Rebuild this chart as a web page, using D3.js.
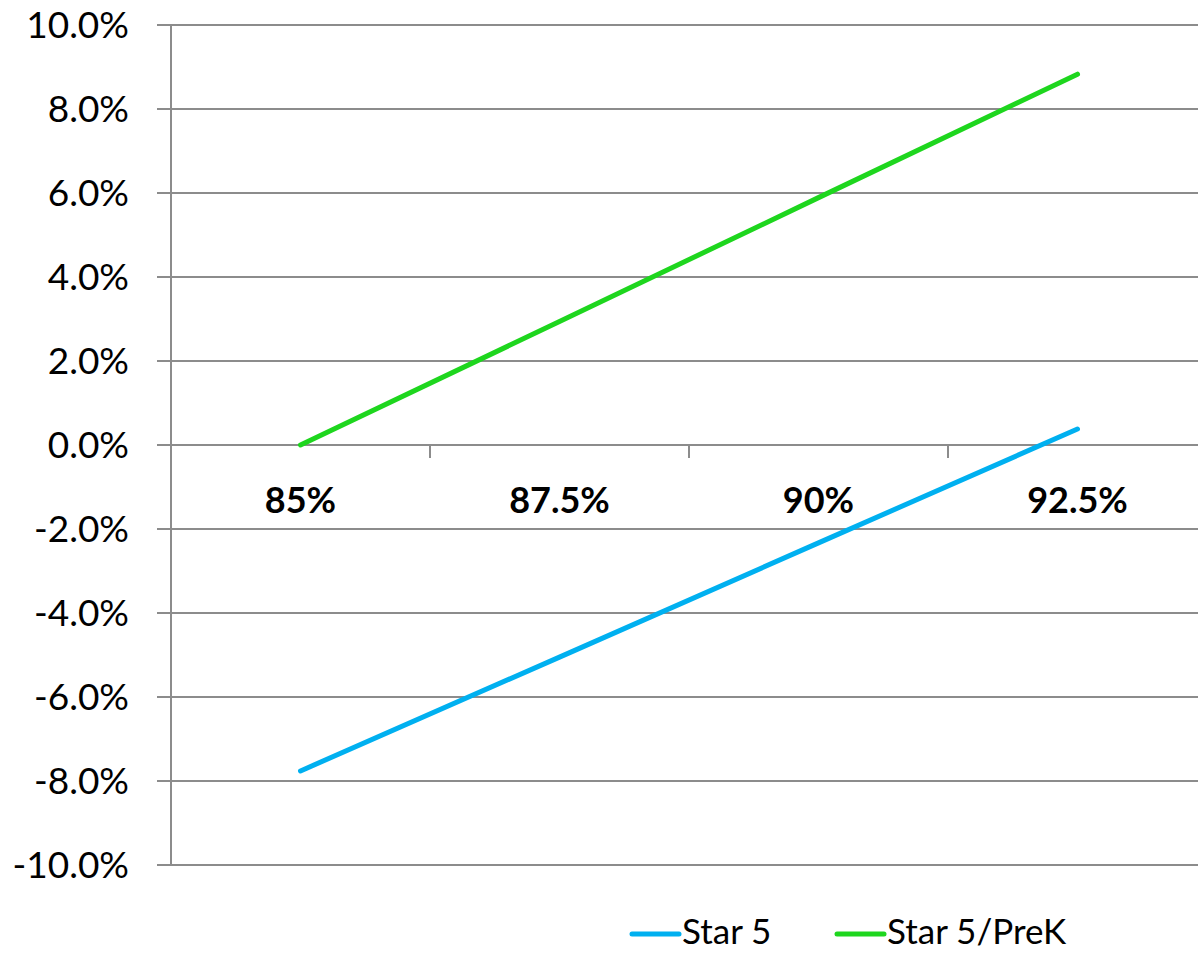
<!DOCTYPE html>
<html><head><meta charset="utf-8">
<script src="https://cdn.jsdelivr.net/npm/d3@7"></script>
<style>body{margin:0;background:#fff}svg{display:block}</style>
</head><body>
<svg id="c" width="1198" height="953"></svg>
<script>
const categories = ["85%", "87.5%", "90%", "92.5%"];
const star5 = [-7.76, -5.05, -2.33, 0.38];
const star5PreK = [0.0, 2.94, 5.89, 8.83];
const yTicks = [-10, -8, -6, -4, -2, 0, 2, 4, 6, 8, 10];
const seriesNames = ["Star 5", "Star 5/PreK"];
const colors = ["#00b0f0", "#1ed61e"];

const svg = d3.select("#c");
const pLeft = 171, pRight = 1207, pTop = 25, pBottom = 865;
const font = "Lato, 'Open Sans', sans-serif";
const x = d3.scaleBand().domain(categories).range([pLeft, pRight]);
const y = d3.scaleLinear().domain([-10, 10]).range([pBottom, pTop]);

// gridlines
svg.append("g").selectAll("line").data(yTicks).join("line")
  .attr("x1", pLeft - 14).attr("x2", pRight)
  .attr("y1", d => y(d)).attr("y2", d => y(d))
  .attr("stroke", "#8c8c8c").attr("stroke-width", 2);
// y axis line
svg.append("line").attr("x1", pLeft).attr("x2", pLeft).attr("y1", pTop).attr("y2", pBottom)
  .attr("stroke", "#8c8c8c").attr("stroke-width", 2);
// y labels
svg.append("g").selectAll("text").data(yTicks).join("text")
  .attr("x", 129).attr("y", d => y(d)).attr("dy", "0.36em")
  .attr("text-anchor", "end").attr("font-family", font).attr("font-size", 37)
  .text(d => d3.format(".1f")(d).replace("\u2212", "-") + "%");
// x ticks at band boundaries on zero line
svg.append("g").selectAll("line").data(categories.slice(1)).join("line")
  .attr("x1", d => x(d)).attr("x2", d => x(d))
  .attr("y1", y(0)).attr("y2", y(0) + 13)
  .attr("stroke", "#8c8c8c").attr("stroke-width", 2);
// category labels
svg.append("g").selectAll("text").data(categories).join("text")
  .attr("x", d => x(d) + x.bandwidth() / 2).attr("y", 513)
  .attr("text-anchor", "middle").attr("font-family", font).attr("font-size", 36)
  .attr("font-weight", "bold").text(d => d);

// lines
const line = d3.line().x((d, i) => x(categories[i]) + x.bandwidth() / 2).y(d => y(d));
[star5, star5PreK].forEach((s, k) => {
  svg.append("path").attr("d", line(s)).attr("fill", "none")
    .attr("stroke", colors[k]).attr("stroke-width", 5).attr("stroke-linecap", "round");
});

// legend
const legX = [632, 837];
seriesNames.forEach((n, k) => {
  svg.append("line").attr("x1", legX[k]).attr("x2", legX[k] + 47)
    .attr("y1", 934).attr("y2", 934).attr("stroke", colors[k]).attr("stroke-width", 5)
    .attr("stroke-linecap", "round");
  svg.append("text").attr("x", legX[k] + 50).attr("y", 944)
    .attr("font-family", font).attr("font-size", 35).text(n);
});
</script>
</body></html>
